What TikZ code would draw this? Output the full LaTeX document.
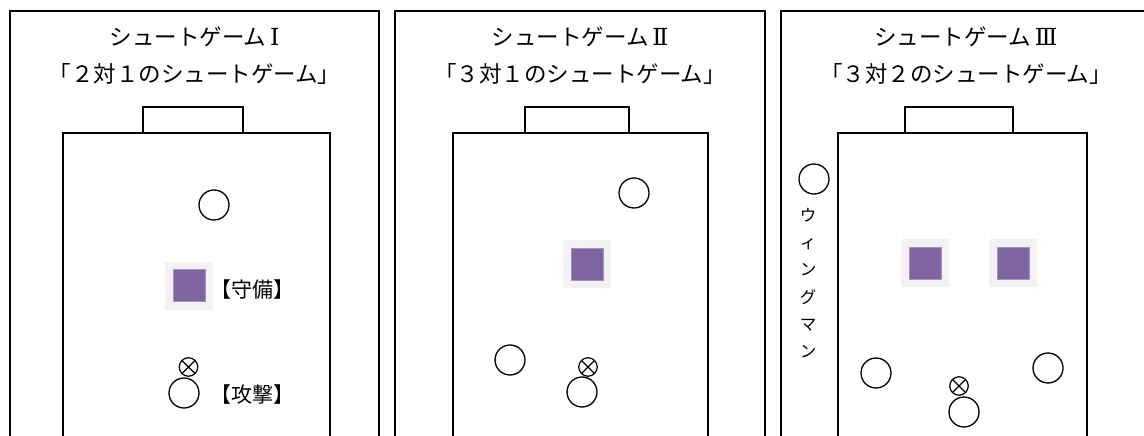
\documentclass[tikz,border=0pt]{standalone}
\usepackage{fontspec}
\newfontfamily\jp{Noto Sans CJK JP}
\newfontfamily\rn{DejaVu Serif}
\definecolor{defpurple}{HTML}{8064A2}
\definecolor{defedge}{HTML}{A391C4}
\definecolor{glow}{HTML}{F2F2F2}
\begin{document}
\begin{tikzpicture}[x=1pt,y=-1pt,
  panelbox/.style={draw, line width=1.4pt},
  fieldbox/.style={draw, line width=1.4pt},
  player/.style={circle, draw, line width=1.3pt, minimum size=30pt, inner sep=0pt},
  ballmark/.style={circle, draw, line width=1.2pt, minimum size=18.5pt, inner sep=0pt,
    path picture={\draw[line width=1.2pt]
      (path picture bounding box.north east) -- (path picture bounding box.south west)
      (path picture bounding box.north west) -- (path picture bounding box.south east);}},
  defender/.style={rectangle, fill=defpurple, draw=defedge, line width=0.5pt,
    minimum size=32pt, inner sep=0pt, preaction={draw=glow, line width=16pt}},
  heading/.style={font=\jp\fontsize{22.5}{26}\selectfont, inner sep=0pt},
  tagtext/.style={font=\jp\fontsize{21}{24}\selectfont, anchor=west, inner sep=0pt},
  wingtext/.style={font=\jp\fontsize{16.5}{27.2}\selectfont, align=center, inner sep=0pt}]
\useasboundingbox (0,0) rectangle (1144,436);
\clip (0,0) rectangle (1144,436);

% ---------- Panel I ----------
\draw[panelbox] (10,11) rectangle (379,470);
\draw[fieldbox] (63,133) rectangle (330,470);
\draw[fieldbox] (143,133) -- (143,107) -- (243,107) -- (243,133);
\node[heading] (t1a) at (194.5,37) {シュートゲーム\,{\rn\fontsize{23.5}{26}\selectfont Ⅰ}};
\node[heading] (t1b) at (194.5,74) {「２対１のシュートゲーム」};
\node[player] (p1a) at (214,205) {};
\node[defender] (d1) at (189,285.5) {};
\node[tagtext] (l1d) at (210,290) {【守備】};
\node[ballmark] (b1) at (188.5,367) {};
\node[player] (a1) at (184,393) {};
\node[tagtext] (l1a) at (210,395) {【攻撃】};

% ---------- Panel II ----------
\draw[panelbox] (395,11) rectangle (765,470);
\draw[fieldbox] (453,133) rectangle (708,470);
\draw[fieldbox] (525,133) -- (525,107) -- (629,107) -- (629,133);
\node[heading] (t2a) at (580,37) {シュートゲーム\,{\rn\fontsize{23.5}{26}\selectfont Ⅱ}};
\node[heading] (t2b) at (580,74) {「３対１のシュートゲーム」};
\node[player] (p2a) at (634,193) {};
\node[defender] (d2) at (587,264) {};
\node[player] (p2b) at (510,360) {};
\node[ballmark] (b2) at (588,367) {};
\node[player] (a2) at (582,392) {};

% ---------- Panel III ----------
\draw[panelbox] (781,11) rectangle (1151,470);
\draw[fieldbox] (838,133) rectangle (1087,470);
\draw[fieldbox] (905,133) -- (905,107) -- (1013,107) -- (1013,133);
\node[heading] (t3a) at (966,37) {シュートゲーム\,{\rn\fontsize{23.5}{26}\selectfont Ⅲ}};
\node[heading] (t3b) at (966,74) {「３対２のシュートゲーム」};
\node[player] (w3) at (814,179) {};
\node[wingtext] (wl) at (808,283) {ウ\\ィ\\ン\\グ\\マ\\ン};
\node[defender] (d3a) at (925,263) {};
\node[defender] (d3b) at (1013,263) {};
\node[player] (p3a) at (876,373) {};
\node[player] (p3b) at (1048,368) {};
\node[ballmark] (b3) at (959,386) {};
\node[player] (a3) at (964,412) {};
\end{tikzpicture}
\end{document}
